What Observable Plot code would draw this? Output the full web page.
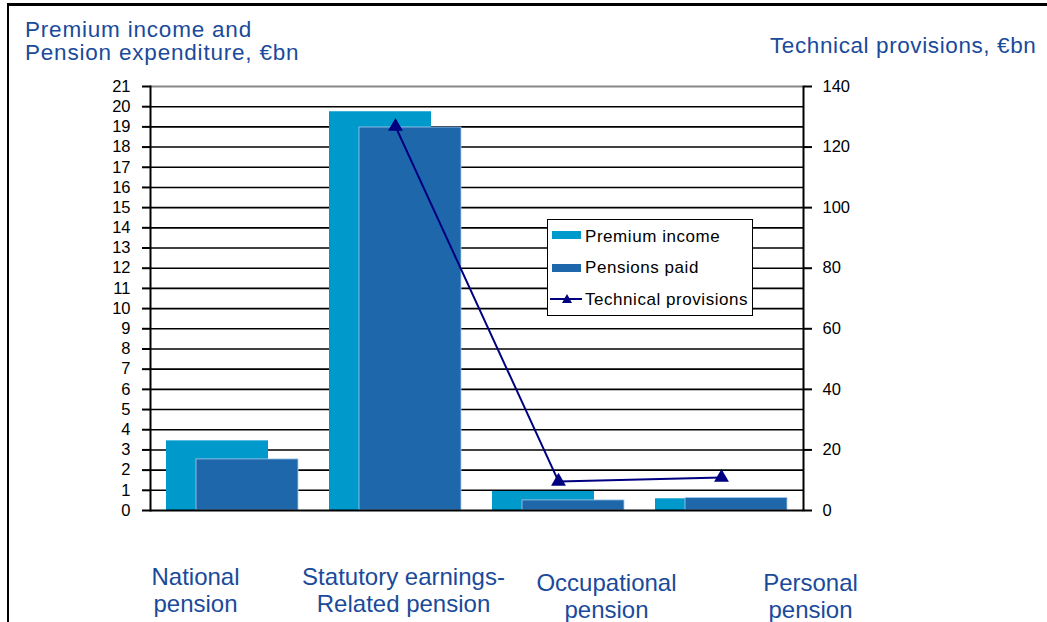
<!DOCTYPE html>
<html><head><meta charset="utf-8">
<script src="https://cdn.jsdelivr.net/npm/d3@7"></script>
<script src="https://cdn.jsdelivr.net/npm/@observablehq/plot@0.6"></script>
<style>
body{margin:0;background:#fff;font-family:"Liberation Sans",Arial,sans-serif}
#wrap{position:relative;width:1047px;height:622px;overflow:hidden;background:#fff}
#frame{position:absolute;left:7px;top:3px;width:1100px;height:700px;border-left:2px solid #000;border-top:3px solid #000;box-sizing:border-box}
.title{position:absolute;color:#1a4a9a;font-size:22.5px;line-height:23px;white-space:nowrap}
#legend{position:absolute;left:547px;top:219px;width:206px;height:97px;border:1px solid #000;background:#fff;box-sizing:border-box}
#legend .sw{position:absolute;left:4px;width:29px;height:8px}
#legend .tx{position:absolute;left:37px;font-size:17px;line-height:17px;letter-spacing:0.55px;color:#000;white-space:nowrap}
#plot{position:absolute;left:0;top:0}
</style></head><body>
<div id="wrap">
  <div id="plot"></div>
  <div id="frame"></div>
  <div class="title" style="left:25px;top:18px;letter-spacing:0.8px">Premium income and<br>Pension expenditure, €bn</div>
  <div class="title" style="left:770px;top:34px;letter-spacing:0.6px">Technical provisions, €bn</div>
  <div id="legend">
    <div class="sw" style="top:11px;background:#0099cc"></div>
    <div class="tx" style="top:7.5px">Premium income</div>
    <div class="sw" style="top:44px;background:#1f67ab"></div>
    <div class="tx" style="top:38.5px">Pensions paid</div>
    <div style="position:absolute;left:2px;top:78px;width:32px;height:2px;background:#000080"></div>
    <div style="position:absolute;left:14px;top:74px;width:0;height:0;border-left:5px solid transparent;border-right:5px solid transparent;border-bottom:9px solid #000080"></div>
    <div class="tx" style="top:70.5px">Technical provisions</div>
  </div>
</div>
<script>
const categories = ["National pension", "Statutory earnings-Related pension", "Occupational pension", "Personal pension"];
const categoryLabels = ["National\npension", "Statutory earnings-\nRelated pension", "Occupational\npension", "Personal\npension"];
const premiumIncome = [3.45, 19.75, 0.94, 0.58];
const pensionsPaid = [2.53, 18.97, 0.50, 0.62];
const technicalProvisions = [null, 126.8, 9.6, 10.9];
const leftTicks = [0,1,2,3,4,5,6,7,8,9,10,11,12,13,14,15,16,17,18,19,20,21];
const rightTicks = [0, 20, 40, 60, 80, 100, 120, 140];

const leftMax = 21, rightMax = 140;
const k = leftMax / rightMax;

const rows = categories.map((c, i) => ({
  cat: c, label: categoryLabels[i],
  premium: premiumIncome[i], paid: pensionsPaid[i], tp: technicalProvisions[i]
}));

// label placement style (the original labels are shifted relative to bands)
const labelStyle = [
  {dx: -37, dy: 55}, {dx: 8, dy: 55}, {dx: 48, dy: 61}, {dx: 89, dy: 61}
];

const blue = "#1a4a9a";

const chart = Plot.plot({
  width: 1047,
  height: 622,
  marginLeft: 150,
  marginRight: 244,
  marginTop: 86,
  marginBottom: 112,
  style: {fontFamily: "'Liberation Sans', Arial, sans-serif", fontSize: "16px", color: "#000", background: "transparent"},
  x: {type: "band", domain: categories, paddingInner: 0.375, paddingOuter: 0.1875, axis: null},
  y: {domain: [0, leftMax], axis: null},
  marks: [
    Plot.ruleY(leftTicks.filter(t => t > 0 && t < leftMax), {stroke: "#000", strokeWidth: 1.6}),
    Plot.ruleY([leftMax], {stroke: "#888", strokeWidth: 2}),
    Plot.barY(rows, {x: "cat", y: "premium", fill: "#0099cc", dx: -15}),
    Plot.barY(rows, {x: "cat", y: "paid", fill: "#1f67ab", stroke: "#a8cdec", strokeWidth: 0.8, dx: 15}),
    Plot.ruleY([0], {stroke: "#000", strokeWidth: 2}),
    Plot.axisY({anchor: "left", ticks: leftTicks, tickSize: 8, tickPadding: 12, fontSize: 16.5, stroke: "#000", strokeWidth: 2, strokeOpacity: 1, tickFormat: d => String(d), label: null}),
    Plot.axisY({anchor: "right", ticks: rightTicks.map(v => v * k), tickSize: 8, tickPadding: 11, fontSize: 16.5, stroke: "#000", strokeWidth: 2, strokeOpacity: 1, tickFormat: d => String(Math.round(d / k)), label: null}),
    Plot.frame({anchor: "left", stroke: "#000", strokeWidth: 2}),
    Plot.frame({anchor: "right", stroke: "#000", strokeWidth: 2}),
    Plot.lineY(rows.filter(d => d.tp != null), {x: "cat", y: d => d.tp * k, stroke: "#000080", strokeWidth: 2}),
    Plot.dot(rows.filter(d => d.tp != null), {x: "cat", y: d => d.tp * k, symbol: "triangle", r: 5.5, fill: "#000080", stroke: "none"}),
    ...rows.map((d, i) => Plot.text([d], {
      x: "cat", text: "label", frameAnchor: "bottom", lineAnchor: "top",
      dx: labelStyle[i].dx, dy: labelStyle[i].dy, fontSize: 24, lineHeight: 1.13, fill: blue
    }))
  ]
});
document.getElementById("plot").appendChild(chart);
</script>
</body></html>
